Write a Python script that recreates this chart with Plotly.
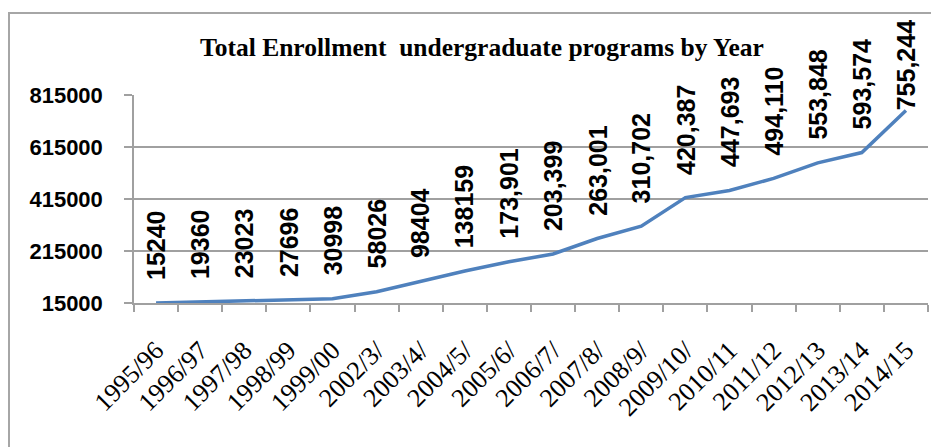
import plotly.graph_objects as go

years = ["1995/96", "1996/97", "1997/98", "1998/99", "1999/00", "2002/3/", "2003/4/",
         "2004/5/", "2005/6/", "2006/7/", "2007/8/", "2008/9/", "2009/10/", "2010/11",
         "2011/12", "2012/13", "2013/14", "2014/15"]
enrollment = [15240, 19360, 23023, 27696, 30998, 58026, 98404, 138159, 173901, 203399,
              263001, 310702, 420387, 447693, 494110, 553848, 593574, 755244]
value_labels = ["15240", "19360", "23023", "27696", "30998", "58026", "98404", "138159",
                "173,901", "203,399", "263,001", "310,702", "420,387", "447,693",
                "494,110", "553,848", "593,574", "755,244"]
y_ticks = [15000, 215000, 415000, 615000, 815000]
title_text = "Total Enrollment  undergraduate programs by Year"

W, H = 939, 447
OFF = 8  # page body margin offset
# target plot box in window pixels: x 134..928, y 95..303
PX0, PX1, PY0, PY1 = 134, 928, 95, 303
L, T = PX0 - OFF, PY0 - OFF
R, B = W - (PX1 - OFF), H - (PY1 - OFF)
Y_MIN, Y_MAX = 15000, 815000

LABEL_SIZE = 25
LABEL_GAP = 21
LABEL_TOP_LIMIT = 22  # labels are kept inside the chart area like Excel does


def label_len(s):
    return sum(0.278 if c == "," else 0.556 for c in s) * LABEL_SIZE


fig = go.Figure()
fig.add_trace(go.Scatter(
    x=years, y=enrollment, mode="lines",
    line=dict(color="#4F81BD", width=3.5),
    hoverinfo="x+y", showlegend=False,
))

for xv, yv, lab in zip(years, enrollment, value_labels):
    ypix = PY0 + (Y_MAX - yv) / (Y_MAX - Y_MIN) * (PY1 - PY0)
    top = ypix - LABEL_GAP - label_len(lab)
    shift = LABEL_GAP - max(0, LABEL_TOP_LIMIT - top)
    fig.add_annotation(
        x=xv, y=yv, xref="x", yref="y", text=lab, showarrow=False,
        textangle=-90, xanchor="center", yanchor="bottom", yshift=shift,
        font=dict(family="Liberation Sans, Arial, sans-serif", size=LABEL_SIZE,
                  color="#000000", weight="bold"),
    )

pw = W - L - R
ph = H - T - B
fig.add_shape(
    type="rect", xref="paper", yref="paper",
    x0=(9 - OFF - L) / pw, x1=(W + 20 - L) / pw,
    y0=(H - B - (13 - OFF)) / ph, y1=(H - B - (H + 20)) / ph,
    line=dict(color="#A6A6A6", width=2), fillcolor="rgba(0,0,0,0)", layer="below",
)

fig.update_layout(
    width=W, height=H,
    margin=dict(l=L, r=R, t=T, b=B, autoexpand=False),
    paper_bgcolor="white", plot_bgcolor="white",
    title=dict(
        text=title_text, x=(482 - OFF) / W, xanchor="center", xref="container",
        y=1 - (47 - OFF) / H, yanchor="middle", yref="container", automargin=False,
        font=dict(family="Liberation Serif, Times New Roman, serif", size=25.5,
                  color="#000000", weight="bold"),
    ),
    xaxis=dict(
        type="category", range=[-0.5, len(years) - 0.5], automargin=False,
        tickson="boundaries", ticks="outside", ticklen=7, tickcolor="#A0A0A0",
        tickwidth=1.5, showline=True, linecolor="#A0A0A0", linewidth=1.5,
        showgrid=False, tickangle=-45, ticklabelstandoff=20,
        tickfont=dict(family="Liberation Serif, Times New Roman, serif", size=26,
                      color="#000000"),
    ),
    yaxis=dict(
        range=[Y_MIN, Y_MAX], tickvals=y_ticks, ticktext=[str(v) for v in y_ticks],
        automargin=False,
        ticks="outside", ticklen=8, tickcolor="#A0A0A0", tickwidth=1.5,
        showline=True, linecolor="#A0A0A0", linewidth=1.5,
        showgrid=True, gridcolor="#A0A0A0", gridwidth=1.5, zeroline=False,
        ticklabelstandoff=17,
        tickfont=dict(family="Liberation Sans, Arial, sans-serif", size=22,
                      color="#000000", weight="bold"),
    ),
)

fig.write_html("out.html")
